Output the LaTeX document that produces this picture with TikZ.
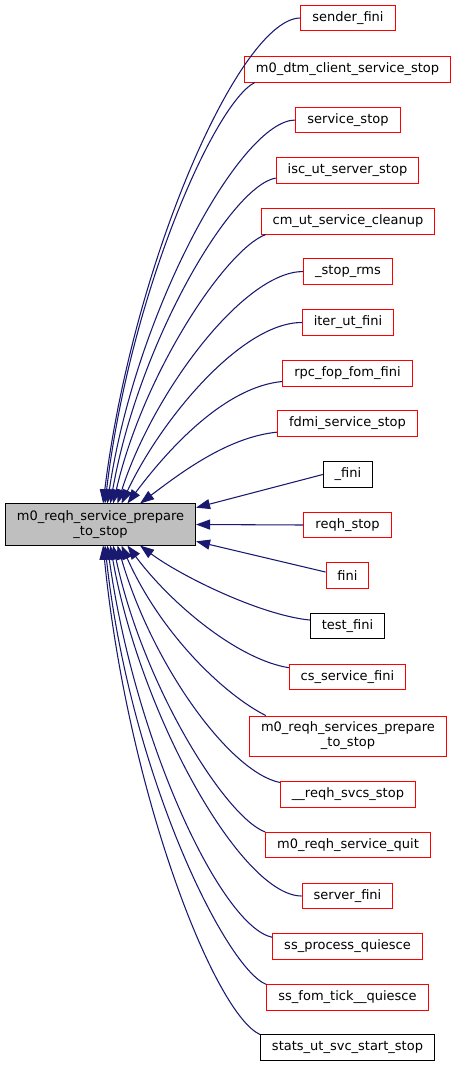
\documentclass[tikz,border=0pt]{standalone}
\usepackage{fontspec}
\setmainfont{DejaVu Sans}
\usepackage{tikz}
\usetikzlibrary{arrows.meta}
\definecolor{dxnavy}{HTML}{191970}
\definecolor{dxred}{HTML}{FF0000}
\definecolor{dxgrey}{HTML}{BFBFBF}

\begin{document}
\begin{tikzpicture}[
x=0.75pt, y=-0.75pt,
fnbox/.style={rectangle, draw=dxred, line width=0.75pt, inner xsep=8.6pt, inner ysep=0pt, minimum height=18.8pt, align=center, font=\fontsize{9.75pt}{11.3pt}\selectfont},
docbox/.style={fnbox, draw=black},
rootbox/.style={fnbox, draw=black, fill=dxgrey, minimum height=30.8pt},
twoline/.style={minimum height=30pt},
call/.style={-{Triangle[length=10.5pt,width=7.5pt]}, line width=0.8pt, dxnavy}
]
\useasboundingbox (0,0) rectangle (457,1067);

% --- Root function ---
\node (root) [rootbox] at (100.5,524.5) {m0\_reqh\_service\_prepare\\\_to\_stop};

% --- Callers above ---
\node (senderfini) [fnbox] at (348,18) {sender\_fini};
\node (dtmstop) [fnbox] at (347.5,69.5) {m0\_dtm\_client\_service\_stop};
\node (svcstop) [fnbox] at (348,120) {service\_stop};
\node (iscstop) [fnbox] at (347.5,170.5) {isc\_ut\_server\_stop};
\node (cmcleanup) [fnbox] at (348,221.5) {cm\_ut\_service\_cleanup};
\node (stoprms) [fnbox] at (348,271.5) {\_stop\_rms};
\node (iterfini) [fnbox] at (348,322.5) {iter\_ut\_fini};
\node (rpcfini) [fnbox] at (347.5,373.5) {rpc\_fop\_fom\_fini};
\node (fdmistop) [fnbox] at (347.5,423.5) {fdmi\_service\_stop};

% --- Callers level with the root ---
\node (ufini) [docbox] at (348,474.5) {\_fini};
\node (reqhstop) [fnbox] at (347.5,525) {reqh\_stop};
\node (fini) [fnbox] at (347.5,575.5) {fini};

% --- Callers below ---
\node (testfini) [docbox] at (347.5,626) {test\_fini};
\node (csfini) [fnbox] at (347.5,677) {cs\_service\_fini};
\node (svcsprep) [fnbox, twoline] at (348,736) {m0\_reqh\_services\_prepare\\\_to\_stop};
\node (svcsstop) [fnbox] at (348,794.5) {\_\_reqh\_svcs\_stop};
\node (svcquit) [fnbox] at (348,845) {m0\_reqh\_service\_quit};
\node (serverfini) [fnbox] at (347.5,896) {server\_fini};
\node (ssquiesce) [fnbox] at (347.5,946.5) {ss\_process\_quiesce};
\node (tickquiesce) [fnbox] at (347.5,997.5) {ss\_fom\_tick\_\_quiesce};
\node (statsstop) [docbox] at (347.5,1047.5) {stats\_ut\_svc\_start\_stop};

% --- Calls into the root (top side) ---
\draw [call] (senderfini.west) .. controls +(-60,0) and +(30,-243) .. (root.83);
\draw [call] (dtmstop.188) .. controls +(-40,20) and +(25,-210) .. (root.78);
\draw [call] (svcstop.west) .. controls +(-55,0) and +(28,-190) .. (root.72);
\draw [call] (iscstop.186) .. controls +(-45,8) and +(28,-160) .. (root.65);
\draw [call] (cmcleanup.189) .. controls +(-40,15) and +(30,-130) .. (root.59);
\draw [call] (stoprms.west) .. controls +(-60,0) and +(35,-110) .. (root.51);
\draw [call] (iterfini.west) .. controls +(-60,0) and +(40,-85) .. (root.45);
\draw [call] (rpcfini.187) .. controls +(-55,5) and +(45,-60) .. (root.38);
\draw [call] (fdmistop.187) .. controls +(-50,5) and +(40,-30) .. (root.28);

% --- Calls into the root (right side) ---
\draw [call] (ufini.west) -- (root.10);
\draw [call] (reqhstop.west) -- (root.east);
\draw [call] (fini.171) -- (root.-10);

% --- Calls into the root (bottom side) ---
\draw [call] (testfini.171) .. controls +(-50,-5) and +(40,30) .. (root.-28);
\draw [call] (csfini.171) .. controls +(-50,-8) and +(45,60) .. (root.-38);
\draw [call] (svcsprep.166) .. controls +(-40,-20) and +(40,90) .. (root.-45);
\draw [call] (svcsstop.170) .. controls +(-50,-10) and +(35,120) .. (root.-51);
\draw [call] (svcquit.north west) .. controls +(-40,-15) and +(30,140) .. (root.-59);
\draw [call] (serverfini.west) .. controls +(-60,0) and +(30,170) .. (root.-65);
\draw [call] (ssquiesce.173) .. controls +(-50,-10) and +(28,200) .. (root.-72);
\draw [call] (tickquiesce.north west) .. controls +(-40,-15) and +(25,230) .. (root.-78);
\draw [call] (statsstop.north west) .. controls +(-45,-20) and +(25,250) .. (root.-83);

\end{tikzpicture}
\end{document}
